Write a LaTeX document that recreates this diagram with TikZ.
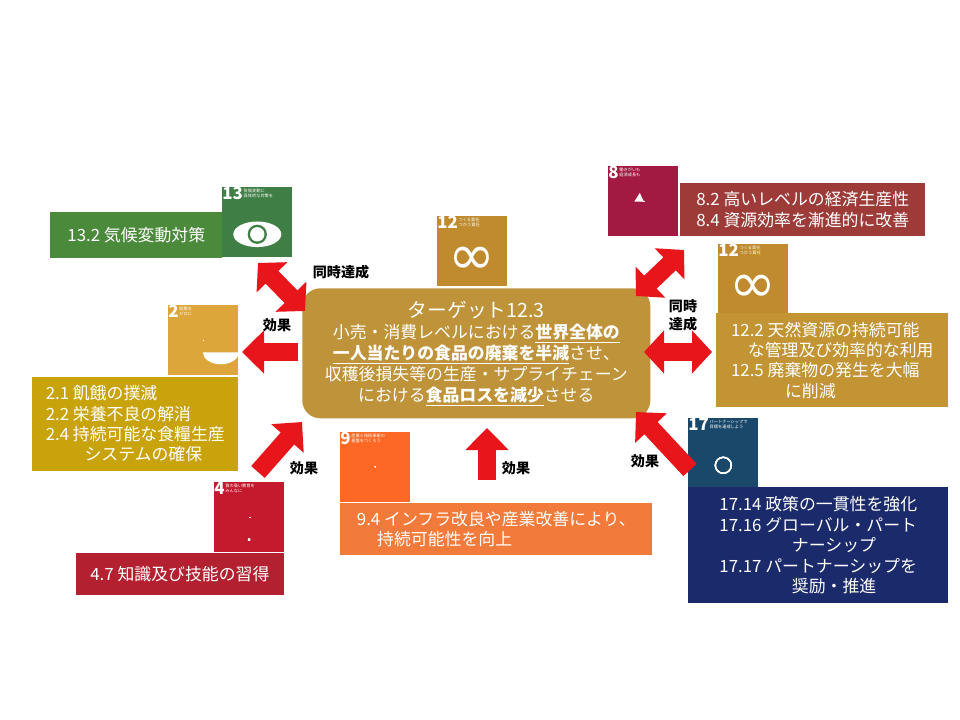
\documentclass[tikz,border=0pt]{standalone}
\usepackage{fontspec}
\setmainfont{Noto Sans CJK JP}
\newfontfamily\symfont{DejaVu Sans}
\usepackage{xcolor}
\usetikzlibrary{
	positioning,    % relative placement
	arrows.meta     % block arrow tips
}
\definecolor{sdggreen}{HTML}{3F7E44}
\definecolor{boxgreen}{HTML}{4B8A3B}
\definecolor{sdggold}{HTML}{BF8B2E}
\definecolor{centergold}{HTML}{BF9339}
\definecolor{sdgyellow}{HTML}{DDA63A}
\definecolor{boxyellow}{HTML}{C9A30C}
\definecolor{sdgred}{HTML}{C5192D}
\definecolor{boxred}{HTML}{B3202F}
\definecolor{sdgorange}{HTML}{FD6925}
\definecolor{boxorange}{HTML}{F27A3A}
\definecolor{sdgwine}{HTML}{A21942}
\definecolor{boxwine}{HTML}{9C3B38}
\definecolor{boxgold}{HTML}{C29434}
\definecolor{sdgnavy}{HTML}{19486A}
\definecolor{boxnavy}{HTML}{1B2A6B}
\definecolor{arrowred}{HTML}{E8161B}

% icon: square with goal number and small caption
\newcommand{\sdgicon}[6]{%
	\node[icon, fill=#4] (#1) at (#2,#3) {};
	\node[anchor=north west, font=\bfseries\fontsize{12}{12}\selectfont, text=white, inner sep=0pt]
		(#1num) at ([shift={(0.15,-0.15)}]#1.north west) {#5};
	\node[right=0.08 of #1num.east, anchor=west, align=left, text=white, inner sep=0pt,
		font=\fontsize{3}{3.6}\selectfont] (#1cap) {#6};}

\begin{document}
\begin{tikzpicture}[
		x=0.025cm, y=-0.025cm,
		icon/.style = {
			rectangle, minimum size=1.75cm, inner sep=0pt, anchor=north west
		},
		tbox/.style = {
			rectangle, anchor=north west, text=white, align=left,
			font=\fontsize{12}{14.5}\selectfont, inner sep=4pt
		},
		glyph/.style = {white, line width=1.2pt},
		bigarrow/.style = {
			-{Triangle[length=0.55cm, width=1.05cm]}, arrowred, line width=0.45cm
		},
		twoarrow/.style = {
			{Triangle[length=0.5cm, width=1.05cm]}-{Triangle[length=0.5cm, width=1.05cm]},
			arrowred, line width=0.45cm
		},
		effect/.style = {font=\bfseries\fontsize{10}{12}\selectfont, align=center}
		]
		\useasboundingbox (0,0) rectangle (960,720);
		
		% centre target
		\node[rectangle, rounded corners=0.45cm, fill=centergold, anchor=north west,
			minimum width=8.7cm, minimum height=3.25cm, text=white, align=center,
			font=\fontsize{12}{15}\selectfont] (target) at (302,288)
			{{\fontsize{14}{16}\selectfont ターゲット12.3}\\
			 小売・消費レベルにおける\textbf{\underline{世界全体の}}\\
			 \textbf{\underline{一人当たりの食品の廃棄を半減}}させ、\\
			 収穫後損失等の生産・サプライチェーン\\
			 における\textbf{\underline{食品ロスを減少}}させる};
		
		% icons
		\sdgicon{g13}{222}{187}{sdggreen}{13}{気候変動に\\具体的な対策を}
		\sdgicon{g12top}{437}{216}{sdggold}{12}{つくる責任\\つかう責任}
		\sdgicon{g2}{168}{305}{sdgyellow}{2}{飢餓を\\ゼロに}
		\sdgicon{g4}{214}{482}{sdgred}{4}{質の高い教育を\\みんなに}
		\sdgicon{g9}{340}{432}{sdgorange}{9}{産業と技術革新の\\基盤をつくろう}
		\sdgicon{g8}{608}{166}{sdgwine}{8}{働きがいも\\経済成長も}
		\sdgicon{g12right}{718}{244}{sdggold}{12}{つくる責任\\つかう責任}
		\sdgicon{g17}{688}{418}{sdgnavy}{17}{パートナーシップで\\目標を達成しよう}
		
		% glyphs
		\node[text=white, font=\symfont\fontsize{40}{40}\selectfont] at ([yshift=-0.25cm]g12top.center) {∞};
		\node[text=white, font=\symfont\fontsize{40}{40}\selectfont] at ([yshift=-0.25cm]g12right.center) {∞};
		\fill[white] ([yshift=-0.3cm]g13.center) ellipse (0.6cm and 0.32cm);
		\fill[sdggreen] ([yshift=-0.3cm]g13.center) circle (0.24cm);
		\fill[white] ([yshift=-0.3cm]g13.center) circle (0.18cm);
		\fill[white] ([yshift=-0.3cm]g2.center) ++(-0.45,0) arc (180:360:0.45cm and 0.3cm) -- cycle;
		\foreach \dx in {-0.15,0,0.15}
			\draw[glyph, line width=0.8pt] ([shift={(\dx,-0.05)}]g2.center) -- ++(0,0.25);
		\draw[glyph] ([yshift=-0.55cm]g4.center) ++(-0.55,0) -- ++(0,0.6) -- ++(0.45,-0.1) -- ++(0,-0.6) -- cycle
			++(0.45,-0.1) -- ++(0,0.6) -- ++(0.45,0.1) -- ++(0,-0.6) -- cycle;
		\draw[glyph] ([shift={(0.55,-0.55)}]g4.center) -- ++(0,0.7);
		\foreach \cx/\cy in {-0.2/-0.6, 0.2/-0.6, 0/-0.2}
			\draw[glyph, line width=0.8pt] ([shift={(\cx,\cy)}]g9.center) ++(-0.2,-0.2) rectangle ++(0.4,0.4);
		\foreach \bx/\bh in {-0.4/0.3, -0.15/0.45, 0.1/0.6, 0.35/0.75}
			\fill[white] ([shift={(\bx,-0.75)}]g8.center) rectangle ++(0.15,\bh);
		\draw[glyph, -{Triangle[length=2mm]}] ([shift={(-0.45,-0.35)}]g8.center) -- ++(0.95,0.6);
		\foreach \a in {0,60,...,300}
			\draw[glyph, line width=0.8pt] ([yshift=-0.3cm]g17.center) ++(\a:0.18) circle (0.2cm);
		
		% target boxes
		\node[tbox, fill=boxgreen, minimum width=4.3cm, minimum height=1.15cm,
			font=\fontsize{12}{14}\selectfont] (t13) at (50,212) {13.2 気候変動対策};
		\node[tbox, fill=boxyellow, minimum width=5.15cm, minimum height=2.33cm] (t2) at (32,377)
			{2.1 飢餓の撲滅\\2.2 栄養不良の解消\\2.4 持続可能な食糧生産\\\hspace{2.3em}システムの確保};
		\node[tbox, fill=boxred, minimum width=5.18cm, minimum height=1.05cm] (t4) at (76,553)
			{4.7 知識及び技能の習得};
		\node[tbox, fill=boxorange, minimum width=7.8cm, minimum height=1.3cm] (t9) at (340,503)
			{9.4 インフラ改良や産業改善により、\\\hspace{1.2em}持続可能性を向上};
		\node[tbox, fill=boxwine, minimum width=6.12cm, minimum height=1.32cm] (t8) at (680,183)
			{8.2 高いレベルの経済生産性\\8.4 資源効率を漸進的に改善};
		\node[tbox, fill=boxgold, minimum width=5.8cm, minimum height=2.35cm] (t12) at (716,313)
			{12.2 天然資源の持続可能\\\hspace{1em}な管理及び効率的な利用\\12.5 廃棄物の発生を大幅\\\hspace{3.2em}に削減};
		\node[tbox, fill=boxnavy, minimum width=6.5cm, minimum height=2.9cm] (t17) at (688,487)
			{17.14 政策の一貫性を強化\\17.16 グローバル・パート\\\hspace{4.3em}ナーシップ\\17.17 パートナーシップを\\\hspace{4.3em}奨励・推進};
		
		% arrow ends
		\coordinate (a13s) at (258,263);
		\coordinate (a13e) at (305,311);
		\coordinate (a2s) at (298,352);
		\coordinate (a2e) at (242,352);
		\coordinate (a4s) at (258,472);
		\coordinate (a4e) at (302,422);
		\coordinate (a9s) at (487,480);
		\coordinate (a9e) at (487,428);
		\coordinate (a17s) at (690,470);
		\coordinate (a17e) at (636,412);
		\coordinate (a12s) at (644,352);
		\coordinate (a12e) at (712,352);
		\coordinate (a8s) at (636,296);
		\coordinate (a8e) at (684,250);
		
		% arrows and labels
		\draw[twoarrow] (a13s) -- (a13e);
		\draw[bigarrow] (a2s) -- (a2e);
		\draw[bigarrow] (a4s) -- (a4e);
		\draw[bigarrow] (a9s) -- (a9e);
		\draw[bigarrow] (a17s) -- (a17e);
		\draw[twoarrow] (a12s) -- (a12e);
		\draw[twoarrow] (a8s) -- (a8e);
		
		\node[effect] (l13) at (341,272) {同時達成};
		\node[effect] (l2) at (277,325) {効果};
		\node[effect] (l4) at (304,468) {効果};
		\node[effect] (l9) at (516,468) {効果};
		\node[effect] (l17) at (645,461) {効果};
		\node[effect, font=\bfseries\fontsize{10}{13}\selectfont] (l12) at (683,315) {同時\\達成};
		
		\end{tikzpicture}
\end{document}
